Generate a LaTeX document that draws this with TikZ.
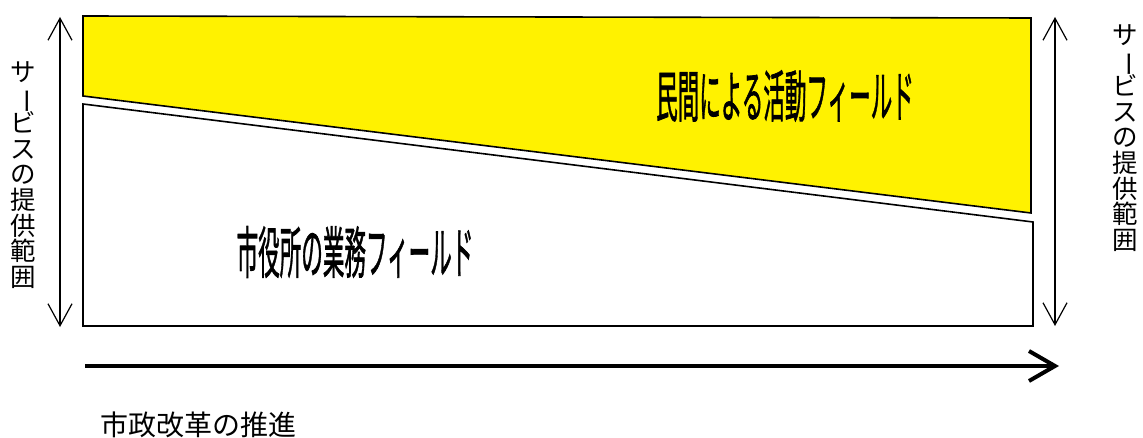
\documentclass[tikz,border=0pt]{standalone}
\usepackage{fontspec}
\usetikzlibrary{arrows.meta}
\newfontfamily\jpfont{Noto Sans CJK JP}
\newfontfamily\jpthick[FakeBold=1.5]{Noto Sans CJK JP}
\newcommand\tatebar{\rotatebox[origin=c]{-90}{ー}}
\newcommand\tatesize{\fontsize{25.5}{25.6}\selectfont\setlength{\lineskiplimit}{-100pt}}

\begin{document}
\begin{tikzpicture}[x=1pt,y=-1pt,
    field/.style={draw=black,line width=1.6pt,line join=miter},
    spanarrow/.style={line width=1.2pt,{Straight Barb[length=22pt,width=24pt]}-{Straight Barb[length=22pt,width=24pt]}},
    reform/.style={line width=4.5pt,-{Straight Barb[length=26pt,width=30pt,line width=4pt]}},
    tate/.style={font=\jpfont\tatesize,align=center,inner sep=0pt},
    big/.style={font=\jpthick\fontsize{56}{56}\selectfont,inner sep=0pt}]
    \useasboundingbox (0,0) rectangle (1143,438);
    % fields
    \draw[field,fill=yellow] (83,16) -- (1031,18) -- (1031,213) -- (83,96) -- cycle;
    \draw[field,fill=white] (83,104) -- (1033,222) -- (1033,326) -- (83,326) -- cycle;
    \node[big] (private) at (785,96) {\scalebox{0.385}[1]{民間による活動フィールド}};
    \node[big] (city) at (355,252) {\scalebox{0.385}[1]{市役所の業務フィールド}};
    % ranges
    \coordinate (ltop) at (60,17);
    \coordinate (lbot) at (60,327);
    \coordinate (rtop) at (1055,17);
    \coordinate (rbot) at (1055,326);
    \draw[spanarrow] (ltop) -- (lbot);
    \draw[spanarrow] (rtop) -- (rbot);
    \node[tate] (lrange) at (23,175) {サ\\\tatebar\\ビ\\ス\\の\\提\\供\\範\\囲};
    \node[tate] (rrange) at (1125,138) {サ\\\tatebar\\ビ\\ス\\の\\提\\供\\範\\囲};
    % reform
    \coordinate (start) at (85,366);
    \coordinate (goal) at (1059,366);
    \draw[reform] (start) -- (goal);
    \node[font=\jpfont\fontsize{28}{28}\selectfont,inner sep=0pt] (label) at (198,425) {市政改革の推進};
\end{tikzpicture}
\end{document}
